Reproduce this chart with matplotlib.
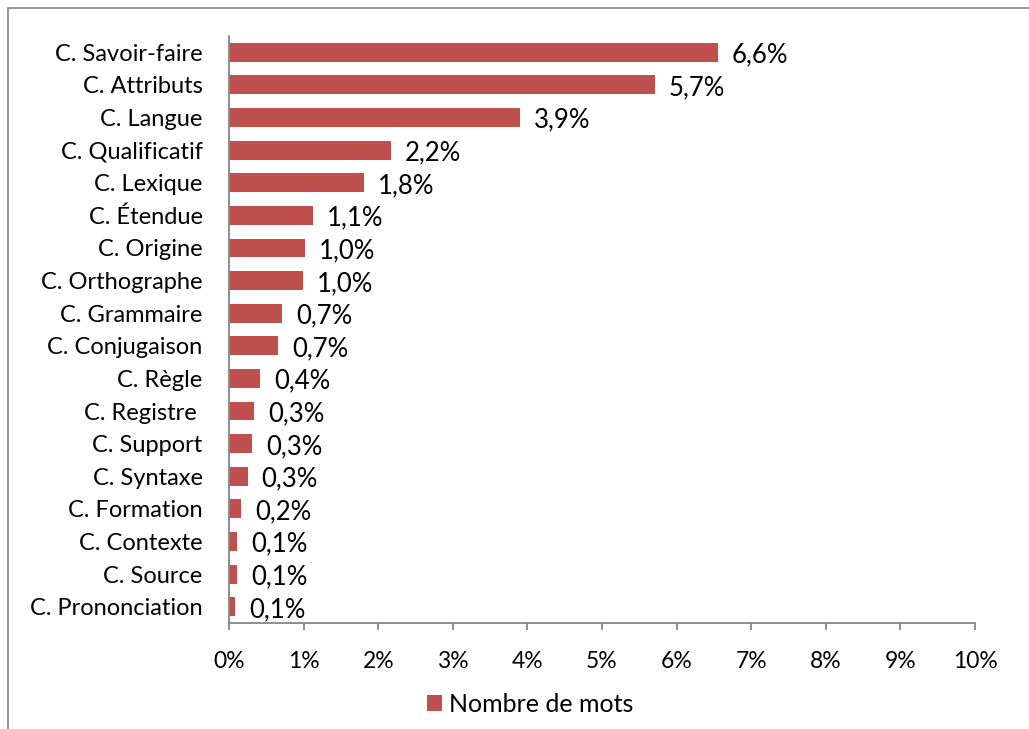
import matplotlib
matplotlib.use("Agg")
import matplotlib.pyplot as plt
from matplotlib.patches import Rectangle

plt.rcParams['font.family'] = ['Lato', 'DejaVu Sans']

# donnees (de haut en bas)
categories = ["C. Savoir-faire", "C. Attributs", "C. Langue", "C. Qualificatif",
              "C. Lexique", "C. Étendue", "C. Origine", "C. Orthographe",
              "C. Grammaire", "C. Conjugaison", "C. Règle", "C. Registre ",
              "C. Support", "C. Syntaxe", "C. Formation", "C. Contexte",
              "C. Source", "C. Prononciation"]
valeurs = [6.55, 5.71, 3.90, 2.17, 1.81, 1.13, 1.02, 0.99, 0.71, 0.66,
           0.42, 0.34, 0.31, 0.25, 0.16, 0.11, 0.11, 0.08]
etiquettes = ["6,6%", "5,7%", "3,9%", "2,2%", "1,8%", "1,1%", "1,0%", "1,0%",
              "0,7%", "0,7%", "0,4%", "0,3%", "0,3%", "0,3%", "0,2%", "0,1%",
              "0,1%", "0,1%"]
ticks = list(range(0, 11))
tick_labels = [f"{t}%" for t in ticks]

rouge = "#C0504D"
gris = "#868686"

fig = plt.figure(figsize=(10.29, 7.29), dpi=100)
ax = fig.add_axes([229/1029, 1-623/729, (975-229)/1029, (623-36)/729])

pos = list(range(len(categories)))[::-1]
ax.barh(pos, valeurs, height=0.58, color=rouge, label="Nombre de mots")
for p, v, t in zip(pos, valeurs, etiquettes):
    ax.annotate(t, (v, p), xytext=(10, -2), textcoords="offset points",
                va="center", ha="left", fontsize=18.5)

ax.set_xlim(0, 10)
ax.set_ylim(-0.5, len(categories) - 0.5)
ax.set_xticks(ticks)
ax.set_xticklabels(tick_labels, fontsize=16.5)
ax.set_yticks(pos)
ax.set_yticklabels(categories, fontsize=17)
ax.tick_params(axis='x', length=5, width=1.3, color=gris, pad=15)
ax.tick_params(axis='y', length=0, pad=19)
for s in ["top", "right"]:
    ax.spines[s].set_visible(False)
for s in ["left", "bottom"]:
    ax.spines[s].set_color(gris)
    ax.spines[s].set_linewidth(1.3)

fig.legend(loc="center", bbox_to_anchor=(530/1029, 1-704/729), frameon=False,
           fontsize=18, handlelength=0.6, handleheight=0.6, handletextpad=0.3)

# cadre du graphique
fig.patches.append(Rectangle((8/1029, -0.1), 1.2, 1-8/729+0.1, transform=fig.transFigure,
                             fill=False, edgecolor=gris, linewidth=1.2))

fig.savefig("out.png", dpi=100)
